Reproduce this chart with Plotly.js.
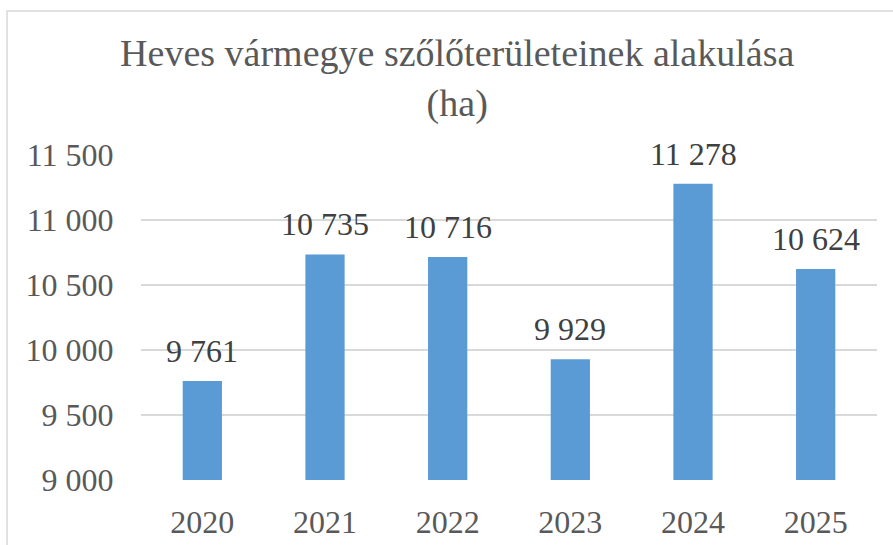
<!DOCTYPE html>
<html><head><meta charset="utf-8">
<script src="https://cdn.plot.ly/plotly-3.0.1.min.js"></script>
<style>html,body{margin:0;padding:0;background:#fff}</style>
</head><body>
<div id="chart" style="width:893px;height:545px"></div>
<script>
const years = ["2020", "2021", "2022", "2023", "2024", "2025"];
const areaHa = [9761, 10735, 10716, 9929, 11278, 10624];
const yTicks = [9000, 9500, 10000, 10500, 11000, 11500];
const titleText = "Heves vármegye szőlőterületeinek alakulása<br>(ha)";

function fmt(v) { return String(v).replace(/\B(?=(\d{3})+(?!\d))/g, " "); }

const font = "Liberation Serif";
const trace = {
  type: "bar", x: years, y: areaHa, width: 0.32,
  marker: { color: "#5b9bd5" }, hoverinfo: "skip"
};
const annotations = years.map((yr, i) => ({
  x: i, y: areaHa[i], xref: "x", yref: "y", text: fmt(areaHa[i]),
  showarrow: false, yanchor: "bottom", yshift: 10,
  font: { family: font, size: 32, color: "#404040" }
}));
const layout = {
  width: 893, height: 545,
  margin: { l: 141, r: 16, t: 155, b: 65 },
  paper_bgcolor: "#fff", plot_bgcolor: "#fff",
  font: { family: font },
  title: { text: titleText, x: 0.512, xanchor: "center", y: 0.878, yanchor: "top",
    font: { family: font, size: 38, color: "#595959" } },
  xaxis: { type: "category", categoryorder: "array", categoryarray: years, range: [-0.5, 5.5],
    tickfont: { family: font, size: 32, color: "#595959" },
    showline: false, ticks: "outside", ticklen: 14, tickcolor: "rgba(0,0,0,0)", showgrid: false },
  yaxis: { range: [9000, 11500], tickvals: yTicks, ticktext: yTicks.map(fmt),
    tickfont: { family: font, size: 32, color: "#595959" },
    gridcolor: "#d9d9d9", gridwidth: 1.5, zeroline: false, showline: false,
    ticks: "outside", ticklen: 20, tickcolor: "rgba(0,0,0,0)" },
  annotations: annotations,
  shapes: [{ type: "rect", xref: "paper", yref: "paper", x0: -0.182, x1: 1.1, y0: -0.3, y1: 1.443,
    line: { color: "#d9d9d9", width: 1.5 }, fillcolor: "rgba(0,0,0,0)" }],
  showlegend: false
};
Plotly.newPlot("chart", [trace], layout, { displayModeBar: false, staticPlot: true });
</script>
</body></html>
